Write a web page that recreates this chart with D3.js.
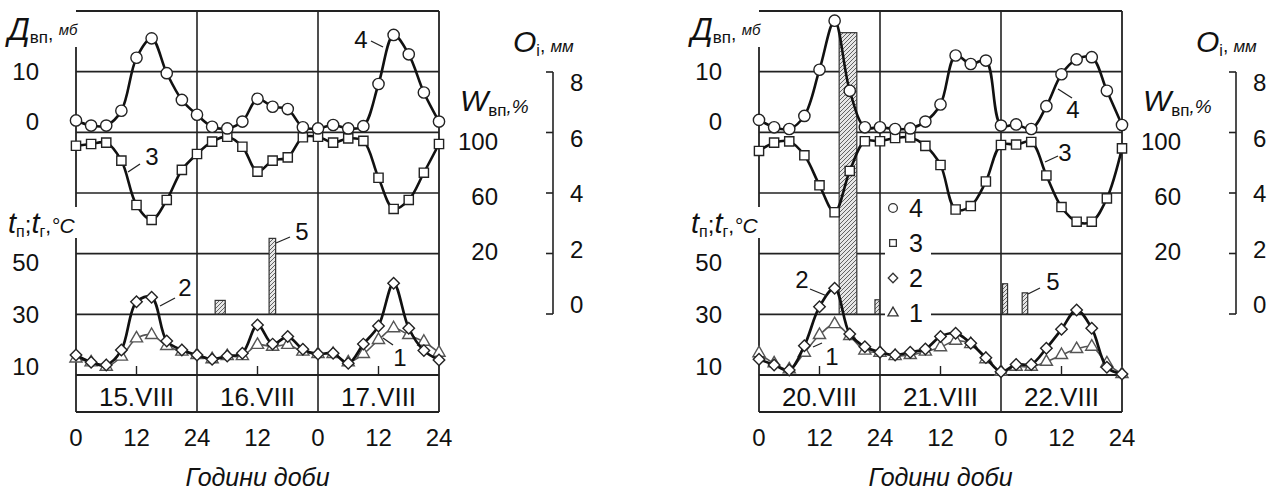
<!DOCTYPE html>
<html>
<head>
<meta charset="utf-8">
<script src="https://cdn.jsdelivr.net/npm/d3@7"></script>
<style>
body { margin: 0; background: #fff; }
svg { display: block; font-family: "Liberation Sans", Arial, sans-serif; }
</style>
</head>
<body>
<svg width="1275" height="492"></svg>
<script>
// hours of observation, every 3 h over three days
var hours = [0,3,6,9,12,15,18,21,24,27,30,33,36,39,42,45,48,51,54,57,60,63,66,69,72];
var xTickHours = [0,12,24,36,48,60,72];
var xTickText = ["0","12","24","12","0","12","24"];

var datesA = ["15.VIII","16.VIII","17.VIII"];
var datesB = ["20.VIII","21.VIII","22.VIII"];

// 4 - deficit, mb
var deficitA = [1.5,0.6,0.6,3.2,12.5,15.9,9.8,5.1,2.5,0.4,0.1,1.3,5.3,3.9,3.5,0.3,0.1,0.7,0.1,0.5,7.9,16.5,13.1,6.4,1.3];
var deficitB = [1.6,0.3,0,2.3,10.4,19.0,6.7,0.3,0.3,0,0.1,1.3,4.3,12.9,11.4,12.0,0.6,0.8,0,4.0,9.6,12.2,12.6,6.7,0.7];
// 3 - relative humidity, %
var humidityA = [93.3,94.5,95.4,83.0,52.4,42.1,55.9,76.6,87.6,96.1,99.5,92.6,75.4,83.0,85.3,99.1,99.5,95.4,98.4,96.6,71.2,49.7,55.9,74.7,94.5];
var humidityB = [89.7,95.4,96.3,86.7,66.0,47.4,75.9,96.4,96.4,98.6,99.0,93.2,80.0,49.3,51.7,68.6,93.8,94.1,95.9,72.8,51.0,40.9,40.9,57.0,91.5];
// 2 - soil surface temperature
var tSurfA = [14.6,11.8,10.8,16.5,35.1,36.8,20.0,16.5,14.6,13.0,14.2,15.3,26.2,18.8,21.7,16.8,15.0,15.3,11.4,18.8,25.8,42.2,24.9,16.3,12.7];
var tSurfB = [13.0,10.8,8.8,18.2,33.2,40.3,22.7,17.8,15.7,14.6,15.7,16.9,21.7,23.0,19.1,13.6,8.2,11.0,11.0,17.2,24.5,31.9,24.9,9.9,7.3];
// 1 - air temperature
var tAirA = [13.3,11.8,10.1,14.0,21.0,22.3,18.1,15.9,14.6,13.0,14.2,14.2,18.5,17.8,18.5,15.9,15.0,15.0,11.8,15.0,20.4,24.9,22.3,19.7,15.5];
var tAirB = [15.3,11.4,9.1,15.5,22.3,26.5,21.9,16.3,15.5,14.2,14.6,15.9,17.6,20.1,18.8,13.0,8.2,10.1,10.1,12.0,14.6,16.9,17.8,11.4,7.3];
// 5 - precipitation, mm (start hour, end hour, amount)
var rainStartA = [27.6,38.3];
var rainEndA = [29.6,39.6];
var rainMmA = [0.45,2.5];
var rainStartB = [15.9,23.0,48.3,52.2];
var rainEndB = [19.4,23.9,49.3,53.3];
var rainMmB = [9.3,0.47,1.0,0.7];

var dTicks = [0,10];
var wTicks = [20,60,100];
var tTicks = [10,30,50];
var oTicks = [0,2,4,6,8];

var svg = d3.select("svg");
var plotTop = 11, bandTop = 375, plotBottom = 412, panelW = 363;

var defs = svg.append("defs");
var pat = defs.append("pattern")
    .attr("id", "hatch")
    .attr("patternUnits", "userSpaceOnUse")
    .attr("width", 4).attr("height", 4);
pat.append("rect").attr("width", 4).attr("height", 4).attr("fill", "#e6e6e6");
pat.append("path").attr("d", "M-1,1 l2,-2 M0,4 l4,-4 M3,5 l2,-2")
    .attr("stroke", "#555").attr("stroke-width", 0.9);

var yD = d3.scaleLinear().domain([0,10]).range([129,72]);
var yW = d3.scaleLinear().domain([20,100]).range([252,136]);
var yT = d3.scaleLinear().domain([10,50]).range([367,263]);
var yO = d3.scaleLinear().domain([0,8]).range([314,72]);
var gridY = d3.scaleLinear().domain([0,6]).range([bandTop, plotTop]);
// label positions of the original drawing
var lD = d3.scaleLinear().domain([0,10]).range([122,72]);
var lW = d3.scaleLinear().domain([20,100]).range([252,142]);
var lO = d3.scaleLinear().domain([0,8]).range([305,83]);

var notesA = [
  {t:"3", x:76, y:157, l:[52,172,64,164]},
  {t:"4", x:285, y:40, l:[295,41,307,47]},
  {t:"2", x:109, y:288, l:[84,306,99,298]},
  {t:"5", x:226, y:232, l:[200,243,214,237]},
  {t:"1", x:324, y:358, l:[307,338,317,345]}
];
var notesB = [
  {t:"2", x:43, y:280, l:[51,289,68,296]},
  {t:"1", x:73, y:357, l:[54,347,63,343]},
  {t:"4", x:314, y:110, l:[299,89,313,98]},
  {t:"3", x:306, y:153, l:[286,162,299,156]},
  {t:"5", x:294, y:282, l:[269,294,281,288]}
];

var sym = {
  circle: d3.symbol(d3.symbolCircle, 100)(),
  square: d3.symbol(d3.symbolSquare, 85)(),
  diamond: d3.symbol(d3.symbolSquare, 66)(),
  triangle: d3.symbol(d3.symbolTriangle, 64)()
};

function drawPanel(x0, dates, deficit, humidity, tSurf, tAir, rStart, rEnd, rMm, notes, withLegend) {
  var g = svg.append("g");
  var x = d3.scaleLinear().domain([0,72]).range([x0, x0 + panelW]);
  var curve = d3.curveCatmullRom.alpha(0.5);

  // grid
  g.selectAll(".hg").data(d3.range(1,6)).enter().append("line")
      .attr("x1", x(0)).attr("x2", x(72))
      .attr("y1", function(d) { return gridY(d); }).attr("y2", function(d) { return gridY(d); })
      .attr("stroke", "#222").attr("stroke-width", 1.6);
  g.selectAll(".vg").data([24,48]).enter().append("line")
      .attr("x1", function(d) { return x(d); }).attr("x2", function(d) { return x(d); })
      .attr("y1", plotTop).attr("y2", plotBottom)
      .attr("stroke", "#222").attr("stroke-width", 1.6);
  // frame
  var frame = [
    [x(0), plotTop, x(72), plotTop], [x(72), plotTop, x(72), plotBottom], [x(0), plotBottom, x(72), plotBottom],
    [x(0), bandTop, x(72), bandTop], [x(0), 47, x(0), 207], [x(0), 238, x(0), plotBottom]
  ];
  g.selectAll(".fr").data(frame).enter().append("line")
      .attr("x1", function(d) { return d[0]; }).attr("y1", function(d) { return d[1]; })
      .attr("x2", function(d) { return d[2]; }).attr("y2", function(d) { return d[3]; })
      .attr("stroke", "#222").attr("stroke-width", 1.8);
  // 12 h ticks on the date band
  g.selectAll(".mt").data([12,36,60]).enter().append("line")
      .attr("x1", function(d) { return x(d); }).attr("x2", function(d) { return x(d); })
      .attr("y1", bandTop - 9).attr("y2", bandTop)
      .attr("stroke", "#222").attr("stroke-width", 1.4);

  // date labels
  g.selectAll(".dt").data(dates).enter().append("text")
      .attr("x", function(d, i) { return x(12 + 24 * i); })
      .attr("y", 397).attr("dy", "0.35em")
      .attr("text-anchor", "middle").attr("font-size", 26).attr("fill", "#111")
      .text(function(d) { return d; });

  // x tick labels
  g.selectAll(".xt").data(xTickHours).enter().append("text")
      .attr("x", function(d) { return x(d); }).attr("y", 438).attr("dy", "0.35em")
      .attr("text-anchor", "middle").attr("font-size", 24).attr("fill", "#111")
      .text(function(d, i) { return xTickText[i]; });
  g.append("text")
      .attr("x", x(36)).attr("y", 477).attr("dy", "0.35em")
      .attr("text-anchor", "middle").attr("font-size", 25).attr("font-style", "italic")
      .attr("fill", "#111").text("Години доби");

  // left axis labels
  g.selectAll(".dl").data(dTicks).enter().append("text")
      .attr("x", x0 - 37).attr("y", function(d) { return lD(d); }).attr("dy", "0.35em")
      .attr("text-anchor", "end").attr("font-size", 24).attr("fill", "#111")
      .text(function(d) { return d; });
  g.selectAll(".tl").data(tTicks).enter().append("text")
      .attr("x", x0 - 37).attr("y", function(d) { return yT(d); }).attr("dy", "0.35em")
      .attr("text-anchor", "end").attr("font-size", 24).attr("fill", "#111")
      .text(function(d) { return d; });
  // humidity labels
  g.selectAll(".wl").data(wTicks).enter().append("text")
      .attr("x", x0 + 422).attr("y", function(d) { return lW(d); }).attr("dy", "0.35em")
      .attr("text-anchor", "end").attr("font-size", 24).attr("fill", "#111")
      .text(function(d) { return d; });
  // precipitation axis
  var ox = x0 + 477;
  g.append("line").attr("x1", ox).attr("x2", ox).attr("y1", yO(8)).attr("y2", yO(0))
      .attr("stroke", "#222").attr("stroke-width", 1.6);
  g.selectAll(".ot").data(oTicks).enter().append("line")
      .attr("x1", ox - 7).attr("x2", ox).attr("y1", function(d) { return yO(d); }).attr("y2", function(d) { return yO(d); })
      .attr("stroke", "#222").attr("stroke-width", 1.6);
  g.selectAll(".ol").data(oTicks).enter().append("text")
      .attr("x", ox + 17).attr("y", function(d) { return lO(d); }).attr("dy", "0.35em")
      .attr("font-size", 24).attr("fill", "#111")
      .text(function(d) { return d; });

  // axis titles
  var t1 = g.append("text").attr("x", x0 - 68).attr("y", 40).attr("fill", "#111");
  t1.append("tspan").attr("font-size", 31).attr("font-style", "italic").text("Д");
  t1.append("tspan").attr("font-size", 17).attr("dy", 3).text("вп");
  t1.append("tspan").attr("font-size", 19).attr("dy", -3).text(", ");
  t1.append("tspan").attr("font-size", 15).attr("font-style", "italic").attr("dy", -5).text("мб");

  var t2 = g.append("text").attr("x", x0 - 68).attr("y", 233).attr("fill", "#111");
  t2.append("tspan").attr("font-size", 29).attr("font-style", "italic").text("t");
  t2.append("tspan").attr("font-size", 16).attr("dy", 4).text("п");
  t2.append("tspan").attr("font-size", 24).attr("dy", -4).text(";");
  t2.append("tspan").attr("font-size", 29).attr("font-style", "italic").text("t");
  t2.append("tspan").attr("font-size", 16).attr("dy", 4).text("г");
  t2.append("tspan").attr("font-size", 21).attr("dy", -4).text(",");
  t2.append("tspan").attr("font-size", 21).attr("font-style", "italic").text("°C");

  var t3 = g.append("text").attr("x", x0 + 384).attr("y", 111).attr("fill", "#111");
  t3.append("tspan").attr("font-size", 30).attr("font-style", "italic").text("W");
  t3.append("tspan").attr("font-size", 17).attr("dy", 5).text("вп");
  t3.append("tspan").attr("font-size", 19).attr("font-style", "italic").attr("dy", -3).text(",%");

  var t4 = g.append("text").attr("x", x0 + 437).attr("y", 52).attr("fill", "#111");
  t4.append("tspan").attr("font-size", 30).attr("font-style", "italic").text("O");
  t4.append("tspan").attr("font-size", 16).attr("dy", 4).text("i");
  t4.append("tspan").attr("font-size", 19).attr("dy", -4).text(", ");
  t4.append("tspan").attr("font-size", 17).attr("font-style", "italic").text("мм");

  // precipitation bars (5)
  g.selectAll(".bar").data(rMm).enter().append("rect")
      .attr("x", function(d, i) { return x(rStart[i]); })
      .attr("width", function(d, i) { return x(rEnd[i]) - x(rStart[i]); })
      .attr("y", function(d) { return yO(d); })
      .attr("height", function(d) { return yO(0) - yO(d); })
      .attr("fill", "url(#hatch)").attr("stroke", "#333").attr("stroke-width", 1.2);

  if (withLegend) {
    var lx = x(24);
    g.append("rect").attr("x", lx + 5).attr("y", 198).attr("width", 46).attr("height", 130)
        .attr("fill", "#fff");
    var legKeys = ["4","3","2","1"];
    var legSym = ["circle","square","diamond","triangle"];
    var legY = [208,243,278,313];
    legKeys.forEach(function(k, i) {
      g.append("path").attr("d", d3.symbol(legSym[i] == "circle" ? d3.symbolCircle :
            legSym[i] == "triangle" ? d3.symbolTriangle : d3.symbolSquare, legSym[i] == "circle" ? 60 : 45)())
          .attr("transform", "translate(" + (lx + 13) + "," + legY[i] + ")" + (legSym[i] == "diamond" ? " rotate(45)" : ""))
          .attr("fill", "#fff").attr("stroke", "#333").attr("stroke-width", 1.3);
      g.append("text").attr("x", lx + 29).attr("y", legY[i]).attr("dy", "0.35em")
          .attr("font-size", 25).attr("fill", "#111").text(k);
    });
  }

  function series(vals, y, shape, lineColor, lineW, mColor, rot) {
    var pts = vals.map(function(v, i) { return [x(hours[i]), y(v)]; });
    g.append("path").datum(pts)
        .attr("d", d3.line().curve(curve))
        .attr("fill", "none").attr("stroke", lineColor).attr("stroke-width", lineW);
    g.selectAll(null).data(pts).enter().append("path")
        .attr("d", sym[shape])
        .attr("transform", function(d) { return "translate(" + d[0] + "," + d[1] + ")" + (rot ? " rotate(45)" : ""); })
        .attr("fill", "#fff").attr("stroke", mColor).attr("stroke-width", 1.4);
  }
  series(tAir, yT, "triangle", "#555", 1.6, "#555", false);
  series(tSurf, yT, "diamond", "#111", 2.7, "#222", true);
  series(humidity, yW, "square", "#111", 2.6, "#222", false);
  series(deficit, yD, "circle", "#111", 2.6, "#222", false);

  // leader annotations
  notes.forEach(function(n) {
    g.append("line")
        .attr("x1", x0 + n.l[0]).attr("y1", n.l[1]).attr("x2", x0 + n.l[2]).attr("y2", n.l[3])
        .attr("stroke", "#222").attr("stroke-width", 1.3);
    g.append("text").attr("x", x0 + n.x).attr("y", n.y).attr("dy", "0.35em")
        .attr("text-anchor", "middle").attr("font-size", 24).attr("fill", "#111").text(n.t);
  });
}

drawPanel(76, datesA, deficitA, humidityA, tSurfA, tAirA, rainStartA, rainEndA, rainMmA, notesA, false);
drawPanel(759, datesB, deficitB, humidityB, tSurfB, tAirB, rainStartB, rainEndB, rainMmB, notesB, true);
</script>
</body>
</html>
